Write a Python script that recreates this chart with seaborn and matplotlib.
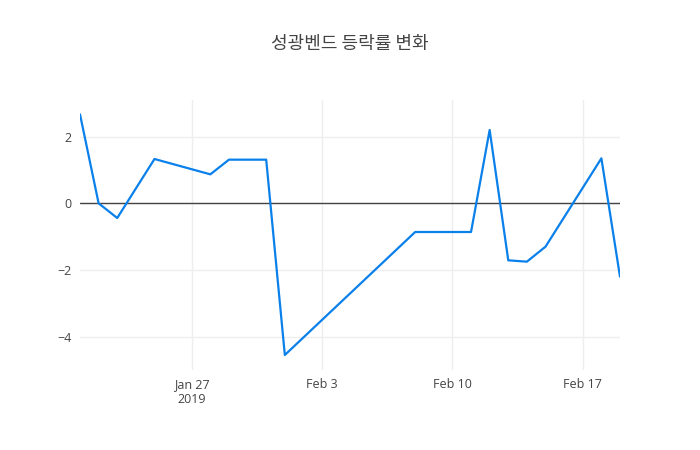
import matplotlib
matplotlib.use("Agg")
import matplotlib.pyplot as plt
import pandas as pd
import seaborn as sns

# 데이터
dates = ["2019-01-21", "2019-01-22", "2019-01-23", "2019-01-25", "2019-01-28",
         "2019-01-29", "2019-01-31", "2019-02-01", "2019-02-08", "2019-02-11",
         "2019-02-12", "2019-02-13", "2019-02-14", "2019-02-15", "2019-02-18",
         "2019-02-19"]
rates = [2.67, 0.0, -0.44, 1.33, 0.87, 1.31, 1.31, -4.55, -0.86, -0.86,
         2.2, -1.71, -1.75, -1.30, 1.35, -2.2]
tick_dates = ["2019-01-27", "2019-02-03", "2019-02-10", "2019-02-17"]
tick_labels = ["Jan 27\n2019", "Feb 3", "Feb 10", "Feb 17"]
y_ticks = [-4, -2, 0, 2]

df = pd.DataFrame({"date": pd.to_datetime(dates), "rate": rates})

sns.set_style("white")
plt.rcParams['font.family'] = ['Open Sans', 'Noto Sans CJK KR', 'DejaVu Sans']
plt.rcParams['axes.unicode_minus'] = False

fig = plt.figure(figsize=(7, 4.5), dpi=100)
ax = fig.add_axes([80/700, 80/450, 540/700, 270/450])

sns.lineplot(data=df, x="date", y="rate", ax=ax, color="#0a80ea", linewidth=1.6)

ax.set_xlim(df["date"].min(), df["date"].max())
ax.set_ylim(-5.0, 3.1)

ax.set_xticks(pd.to_datetime(tick_dates))
ax.set_xticklabels(tick_labels)
ax.set_yticks(y_ticks)
ax.set_yticklabels(["\u22124", "\u22122", "0", "2"])
ax.tick_params(axis="both", length=0, labelsize=9, colors="#444444", pad=6)
ax.grid(True, color="#eeeeee", linewidth=1)
ax.set_axisbelow(True)
ax.axhline(0, color="#444444", linewidth=1, zorder=1.5)
for s in ax.spines.values():
    s.set_visible(False)
ax.set_xlabel("")
ax.set_ylabel("")

fig.text(0.5, 1 - 44/450, "성광벤드 등락률 변화", ha="center", va="center",
         fontsize=13, color="#444444", family=['Noto Sans CJK KR', 'DejaVu Sans'])

fig.savefig("out.png", dpi=100)
